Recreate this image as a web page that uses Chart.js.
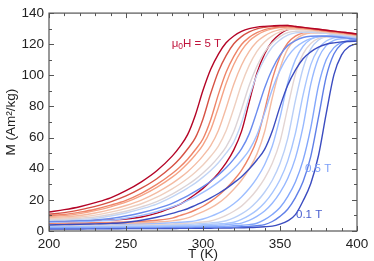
<!DOCTYPE html>
<html>
<head>
<meta charset="utf-8">
<script src="https://cdn.jsdelivr.net/npm/chart.js@4.4.1/dist/chart.umd.min.js"></script>
<style>
  html, body { margin: 0; padding: 0; background: #fff; }
</style>
</head>
<body>
<canvas id="myChart" width="374" height="261"></canvas>
<script>
// temperature grid (K)
const temps = [200, 210, 220, 230, 240, 250, 260, 270, 280, 285, 290, 295, 300, 305, 310, 315, 320,
  325, 330, 335, 340, 345, 350, 355, 360, 365, 370, 375, 380, 385, 390, 395, 400];

// first field series (5 T ... lowest field), M in Am2/kg
const runA1 = [12.2, 13.7, 15.6, 18.2, 21.3, 25.9, 31.6, 38.7, 48.1, 54.2, 61.9, 74.4, 90.4, 103.9, 113.7, 120.9, 125.3, 128.2, 130.0, 131.0, 131.5, 131.8, 132, 132, 131.4, 130.8, 130.2, 129.6, 129, 128.4, 127.8, 127.2, 126.6];
const runA2 = [10.8, 11.8, 13.6, 15.8, 18.7, 22.5, 27.5, 33.6, 41.6, 46.6, 52.7, 59.8, 72.0, 88.3, 102.5, 112.7, 120.3, 124.9, 127.9, 129.9, 130.9, 131.5, 131.8, 132, 131.4, 130.8, 130.2, 129.6, 129, 128.4, 127.8, 127.2, 126.6];
const runA3 = [10.0, 10.6, 12.1, 14.0, 16.6, 19.7, 24.2, 29.9, 36.9, 41.1, 46.1, 52.2, 59.3, 71.5, 87.8, 102.0, 112.2, 119.8, 124.4, 127.4, 129.4, 130.4, 131.0, 131.3, 130.9, 130.3, 129.7, 129.1, 128.5, 127.9, 127.3, 126.7, 126.1];
const runA4 = [9.4, 9.9, 11.2, 13.1, 15.5, 18.5, 22.7, 28.0, 34.6, 38.6, 43.3, 48.8, 55.4, 65.1, 79.4, 94.8, 107.0, 115.9, 122.1, 125.9, 128.4, 129.9, 130.7, 131.1, 130.8, 130.3, 129.7, 129.1, 128.5, 127.9, 127.3, 126.7, 126.1];
const runA5 = [8.7, 9.1, 10.0, 11.6, 13.7, 16.4, 19.9, 24.7, 30.6, 34.1, 38.1, 42.8, 48.3, 54.9, 64.6, 78.9, 94.3, 106.5, 115.4, 121.6, 125.4, 127.9, 129.4, 130.2, 130.0, 129.7, 129.2, 128.6, 128.0, 127.4, 126.8, 126.2, 125.6];
const runA6 = [8.1, 8.4, 9.0, 10.2, 12.1, 14.5, 17.5, 21.7, 27.1, 30.2, 33.7, 37.8, 42.4, 48.0, 54.6, 64.4, 78.7, 94.1, 106.4, 115.4, 121.5, 125.4, 127.9, 129.4, 129.6, 129.4, 129.1, 128.6, 128.0, 127.4, 126.8, 126.2, 125.6];
const runA7 = [7.4, 7.7, 8.2, 9.0, 10.6, 12.7, 15.5, 18.9, 23.7, 26.6, 29.7, 33.2, 37.3, 41.9, 47.5, 54.1, 63.9, 78.2, 93.6, 105.9, 114.9, 121.0, 124.9, 127.4, 128.3, 128.5, 128.3, 128.0, 127.5, 126.9, 126.3, 125.7, 125.1];
const runA8 = [6.9, 7.1, 7.5, 8.1, 9.6, 11.6, 14.2, 17.3, 21.9, 24.6, 27.6, 30.8, 34.6, 38.9, 43.9, 50.0, 57.2, 69.5, 86.0, 100.2, 110.5, 118.2, 122.8, 125.9, 127.3, 127.7, 127.7, 127.3, 127.0, 126.4, 125.8, 125.2, 124.6];
const runA9 = [6.2, 6.4, 6.7, 7.1, 8.0, 9.6, 11.7, 14.4, 17.8, 20.1, 22.6, 25.4, 28.5, 32.0, 36.0, 40.6, 46.2, 52.7, 62.4, 76.7, 91.9, 104.1, 113.0, 119.1, 122.3, 124.3, 125.1, 125.3, 125.1, 124.8, 124.3, 123.7, 123.1];
const runA10 = [5.6, 5.8, 6.0, 6.4, 6.9, 8.2, 10.0, 12.4, 15.4, 17.3, 19.6, 22.0, 24.8, 27.9, 31.4, 35.4, 40.0, 45.5, 52.0, 61.7, 75.9, 91.1, 103.2, 112.1, 117.9, 121.4, 123.6, 124.7, 125.2, 125.3, 125.3, 125.1, 124.8];
const runA11 = [3.9, 4.1, 4.3, 4.6, 4.9, 5.5, 6.9, 8.8, 11.3, 12.8, 14.3, 16.5, 18.7, 21.3, 24.1, 27.2, 30.9, 34.9, 39.8, 45.6, 52.4, 64.2, 79.9, 93.6, 103.4, 110.7, 115.1, 118.1, 120.0, 120.9, 121.5, 121.8, 122.0];

// second field series (5 T ... 0.1 T)
const runB1 = [6.1, 6.3, 6.4, 6.8, 7.1, 7.7, 9.0, 11.5, 15.1, 17.1, 20.2, 23.6, 27.4, 31.9, 37.2, 43.7, 52.1, 64.0, 82.8, 101.4, 113.7, 121.9, 126.6, 129.4, 129.9, 129.9, 129.7, 129.1, 128.5, 127.9, 127.3, 126.7, 126.1];
const runB2 = [5.0, 5.1, 5.2, 5.3, 5.5, 5.8, 6.2, 6.9, 8.3, 9.9, 11.5, 13.5, 15.9, 19.0, 22.8, 27.3, 32.6, 39.0, 47.5, 58.8, 77.3, 97.6, 111.9, 120.8, 125.2, 127.3, 127.9, 127.8, 127.5, 126.9, 126.3, 125.7, 125.1];
const runB3 = [4.6, 4.6, 4.7, 4.7, 4.8, 5.0, 5.3, 5.8, 6.5, 7.2, 8.4, 10.3, 12.4, 14.8, 17.9, 21.9, 26.8, 32.6, 39.9, 49.4, 63.8, 85.6, 104.4, 117.0, 123.1, 126.1, 127.2, 127.2, 127.0, 126.4, 125.8, 125.2, 124.6];
const runB4 = [4.2, 4.3, 4.3, 4.4, 4.4, 4.5, 4.7, 4.9, 5.4, 5.6, 5.9, 6.5, 7.7, 9.4, 11.5, 14.1, 17.5, 21.9, 27.3, 34.0, 42.6, 54.6, 73.0, 95.1, 110.0, 118.7, 123.2, 124.9, 125.4, 125.2, 124.8, 124.2, 123.6];
const runB5 = [3.8, 3.9, 3.9, 4.0, 4.0, 4.1, 4.2, 4.3, 4.6, 4.8, 5.1, 5.4, 5.8, 6.4, 8.0, 10.1, 12.7, 16.0, 20.7, 26.5, 33.8, 43.5, 57.4, 79.3, 100.6, 113.8, 120.5, 123.7, 124.6, 124.7, 124.3, 123.7, 123.1];
const runB6 = [3.5, 3.6, 3.6, 3.7, 3.7, 3.8, 3.9, 4.0, 4.1, 4.2, 4.3, 4.6, 4.9, 5.2, 5.6, 6.6, 8.5, 11.0, 14.3, 18.9, 24.9, 32.6, 43.3, 59.3, 83.8, 104.6, 117.0, 122.7, 125.0, 125.8, 125.9, 125.6, 125.3];
const runB7 = [3.1, 3.2, 3.2, 3.3, 3.3, 3.4, 3.4, 3.5, 3.6, 3.7, 3.7, 3.8, 4.0, 4.3, 4.6, 4.9, 5.6, 7.4, 10.0, 13.4, 18.1, 24.5, 32.9, 44.9, 62.7, 87.5, 106.9, 117.2, 122.1, 124.1, 124.6, 124.6, 124.3];
const runB8 = [2.7, 2.8, 2.8, 2.9, 2.9, 3.0, 3.0, 3.1, 3.1, 3.2, 3.2, 3.3, 3.4, 3.5, 3.8, 4.1, 4.5, 5.1, 6.8, 9.4, 12.8, 17.8, 24.6, 33.7, 46.8, 67.2, 94.4, 111.2, 119.1, 122.5, 123.5, 123.6, 123.3];
const runB9 = [2.3, 2.3, 2.4, 2.4, 2.5, 2.5, 2.6, 2.6, 2.7, 2.7, 2.7, 2.8, 2.8, 2.9, 2.9, 3.1, 3.4, 3.7, 4.1, 5.0, 7.3, 10.6, 15.1, 22.1, 31.5, 45.5, 66.4, 93.4, 110.0, 117.8, 121.2, 122.2, 122.3];
const runB10 = [1.8, 1.8, 1.9, 1.9, 2.0, 2.0, 2.1, 2.1, 2.2, 2.2, 2.2, 2.3, 2.3, 2.3, 2.3, 2.4, 2.5, 2.7, 3.0, 3.4, 4.1, 6.1, 9.4, 14.0, 21.5, 31.8, 48.0, 73.1, 99.0, 113.7, 120.1, 122.6, 123.3];
const runB11 = [1.2, 1.3, 1.3, 1.4, 1.4, 1.5, 1.5, 1.6, 1.6, 1.7, 1.7, 1.7, 1.8, 1.8, 1.9, 1.9, 2.0, 2.1, 2.2, 2.4, 2.7, 3.1, 4.4, 6.5, 10.5, 19.4, 30.5, 48.5, 75.4, 100.3, 113.2, 118.6, 120.4];

const colorsA = ["#b40426", "#d65244", "#ee8468", "#f5a385", "#f4bba2", "#efcfbf", "#dcd3d6", "#c0d4f5", "#6a8bee", "#9ebeff", "#3b4cc0"];
const colorsB = ["#b40426", "#ee8468", "#f4bba2", "#9ebeff", "#e3d5d3", "#b9cff7", "#a7c5fe", "#97b8ff", "#82a6fb", "#5f7fe8", "#3b4cc0"];

const runsA = [runA1, runA2, runA3, runA4, runA5, runA6, runA7, runA8, runA9, runA10, runA11];
const runsB = [runB1, runB2, runB3, runB4, runB5, runB6, runB7, runB8, runB9, runB10, runB11];

const xTicks = [200, 250, 300, 350, 400];
const yTicks = [0, 20, 40, 60, 80, 100, 120, 140];

const toPoints = (vals) => vals.map((m, i) => ({ x: temps[i], y: m }));

const datasets = [];
const addRun = (vals, color) => {
  datasets.push({
    data: toPoints(vals),
    borderColor: color,
    borderWidth: 1.4,
    pointRadius: 0,
    cubicInterpolationMode: "monotone",
    fill: false,
  });
};
runsA.forEach((r, i) => addRun(r, colorsA[i]));
runsB.forEach((r, i) => addRun(r, colorsB[i]));

const font = "Liberation Sans, Arial, Helvetica, sans-serif";

// gnuplot-like box with inward ticks, plus the field labels
const frame = {
  id: "frame",
  afterDatasetsDraw(chart) {
    const { ctx, chartArea: a, scales: { x, y } } = chart;
    ctx.save();
    ctx.strokeStyle = "#555";
    ctx.lineWidth = 1.2;
    ctx.strokeRect(a.left, a.top, a.right - a.left, a.bottom - a.top);
    ctx.lineWidth = 1;
    ctx.beginPath();
    for (let t = 200; t <= 400; t += 10) {
      const px = Math.round(x.getPixelForValue(t)) + 0.5;
      const len = t % 50 === 0 ? 5 : 3;
      ctx.moveTo(px, a.bottom); ctx.lineTo(px, a.bottom - len);
      ctx.moveTo(px, a.top); ctx.lineTo(px, a.top + len);
    }
    for (let m = 0; m <= 140; m += 10) {
      const py = Math.round(y.getPixelForValue(m)) + 0.5;
      const len = m % 20 === 0 ? 5 : 3;
      ctx.moveTo(a.left, py); ctx.lineTo(a.left + len, py);
      ctx.moveTo(a.right, py); ctx.lineTo(a.right - len, py);
    }
    ctx.stroke();

    ctx.textBaseline = "middle";
    ctx.textAlign = "left";
    // mu0 H = 5 T
    let px = x.getPixelForValue(279.7);
    let py = y.getPixelForValue(120.1);
    ctx.fillStyle = "#c0143c";
    ctx.font = "11.5px " + font;
    ctx.fillText("\u03bc", px, py);
    px += ctx.measureText("\u03bc").width;
    ctx.font = "8.5px " + font;
    ctx.fillText("0", px, py + 3);
    px += ctx.measureText("0").width;
    ctx.font = "11.5px " + font;
    ctx.fillText("H = 5 T", px, py);

    ctx.fillStyle = "#7b9ff9";
    ctx.fillText("0.5 T", x.getPixelForValue(366.2), y.getPixelForValue(39.7));
    ctx.fillStyle = "#4a5fcf";
    ctx.fillText("0.1 T", x.getPixelForValue(360.4), y.getPixelForValue(10.3));
    ctx.restore();
  },
};

const ctx = document.querySelector("#myChart");

const myChart = new Chart(ctx, {
  type: "line",
  data: { datasets },
  options: {
    responsive: false,
    animation: false,
    devicePixelRatio: 1,
    layout: { padding: { top: 10, right: 17, left: 0, bottom: 0 } },
    plugins: { legend: { display: false }, tooltip: { enabled: false } },
    scales: {
      x: {
        type: "linear",
        min: 200,
        max: 400,
        afterBuildTicks: (s) => { s.ticks = xTicks.map((v) => ({ value: v })); },
        afterFit: (s) => { s.height = 30; },
        grid: { display: false, drawTicks: false },
        border: { display: false },
        ticks: { padding: 5, color: "#222", font: { family: font, size: 13.5 }, maxRotation: 0 },
        title: { display: true, text: "T (K)", color: "#222", font: { family: font, size: 13.5 }, padding: { top: 0, bottom: -1.5 } },
      },
      y: {
        min: 0,
        max: 140,
        afterBuildTicks: (s) => { s.ticks = yTicks.map((v) => ({ value: v })); },
        afterFit: (s) => { s.width = 49; },
        grid: { display: false, drawTicks: false },
        border: { display: false },
        ticks: { padding: 5, color: "#222", font: { family: font, size: 13.5 } },
        title: { display: true, text: "M (Am\u00b2/kg)", color: "#222", font: { family: font, size: 13.5 }, padding: { top: 3, bottom: 0 } },
      },
    },
  },
  plugins: [frame],
});
</script>
</body>
</html>
